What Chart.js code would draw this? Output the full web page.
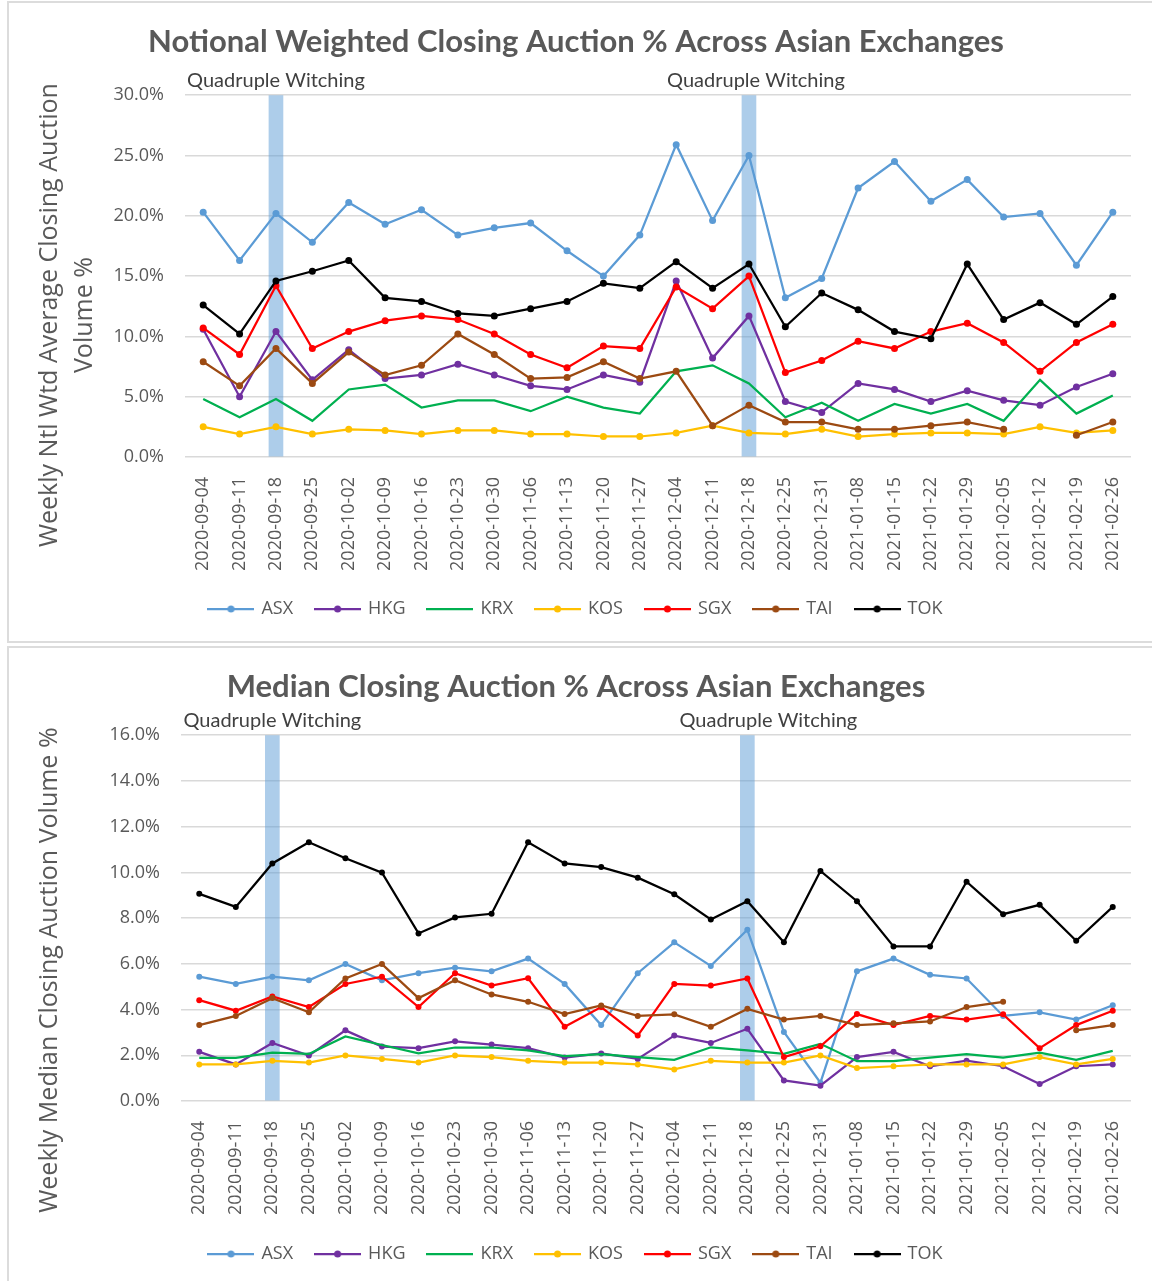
<!DOCTYPE html>
<html>
<head>
<meta charset="utf-8">
<script src="https://cdn.jsdelivr.net/npm/chart.js@4.4.1/dist/chart.umd.min.js"></script>
<style>
  body { margin: 0; background: #fff; width: 1152px; height: 1281px; overflow: hidden; position: relative; }
  .panel { position: absolute; left: 7px; width: 1160px; border: 2px solid #dcdcdc; box-sizing: border-box; }
  #panel1 { top: 1px; height: 642px; }
  #panel2 { top: 646px; height: 700px; }
  .wrap { position: absolute; left: 0; width: 1152px; }
  #wrap1 { top: 0; height: 640px; }
  #wrap2 { top: 645px; height: 636px; }
</style>
</head>
<body>
<div class="panel" id="panel1"></div>
<div class="panel" id="panel2"></div>
<div class="wrap" id="wrap1"><canvas id="chart1"></canvas></div>
<div class="wrap" id="wrap2"><canvas id="chart2"></canvas></div>
<script>
// Categories
const weeks = [
  "2020-09-04", "2020-09-11", "2020-09-18", "2020-09-25", "2020-10-02", "2020-10-09",
  "2020-10-16", "2020-10-23", "2020-10-30", "2020-11-06", "2020-11-13", "2020-11-20",
  "2020-11-27", "2020-12-04", "2020-12-11", "2020-12-18", "2020-12-25", "2020-12-31",
  "2021-01-08", "2021-01-15", "2021-01-22", "2021-01-29", "2021-02-05", "2021-02-12",
  "2021-02-19", "2021-02-26"
];
const witchingWeeks = ["2020-09-18", "2020-12-18"];
const exchanges = ["ASX", "HKG", "KRX", "KOS", "SGX", "TAI", "TOK"];

// Notional weighted closing auction % (top chart)
const asxNtl = [20.3, 16.3, 20.2, 17.8, 21.1, 19.3, 20.5, 18.4, 19.0, 19.4, 17.1, 15.0, 18.4, 25.9, 19.6, 25.0, 13.2, 14.8, 22.3, 24.5, 21.2, 23.0, 19.9, 20.2, 15.9, 20.3];
const hkgNtl = [10.6, 5.0, 10.4, 6.4, 8.9, 6.5, 6.8, 7.7, 6.8, 5.9, 5.6, 6.8, 6.2, 14.6, 8.2, 11.7, 4.6, 3.7, 6.1, 5.6, 4.6, 5.5, 4.7, 4.3, 5.8, 6.9];
const krxNtl = [4.8, 3.3, 4.8, 3.0, 5.6, 6.0, 4.1, 4.7, 4.7, 3.8, 5.0, 4.1, 3.6, 7.1, 7.6, 6.1, 3.3, 4.5, 3.0, 4.4, 3.6, 4.4, 3.0, 6.4, 3.6, 5.1];
const kosNtl = [2.5, 1.9, 2.5, 1.9, 2.3, 2.2, 1.9, 2.2, 2.2, 1.9, 1.9, 1.7, 1.7, 2.0, 2.6, 2.0, 1.9, 2.3, 1.7, 1.9, 2.0, 2.0, 1.9, 2.5, 2.0, 2.2];
const sgxNtl = [10.7, 8.5, 14.2, 9.0, 10.4, 11.3, 11.7, 11.4, 10.2, 8.5, 7.4, 9.2, 9.0, 14.1, 12.3, 15.0, 7.0, 8.0, 9.6, 9.0, 10.4, 11.1, 9.5, 7.1, 9.5, 11.0];
const taiNtl = [7.9, 5.9, 9.0, 6.1, 8.7, 6.8, 7.6, 10.2, 8.5, 6.5, 6.6, 7.9, 6.5, 7.1, 2.6, 4.3, 2.9, 2.9, 2.3, 2.3, 2.6, 2.9, 2.3, null, 1.8, 2.9];
const tokNtl = [12.6, 10.2, 14.6, 15.4, 16.3, 13.2, 12.9, 11.9, 11.7, 12.3, 12.9, 14.4, 14.0, 16.2, 14.0, 16.0, 10.8, 13.6, 12.2, 10.4, 9.8, 16.0, 11.4, 12.8, 11.0, 13.3];

// Median closing auction % (bottom chart)
const asxMed = [5.44, 5.12, 5.44, 5.28, 5.99, 5.28, 5.59, 5.83, 5.67, 6.23, 5.12, 3.32, 5.59, 6.94, 5.91, 7.49, 3.02, 0.8, 5.67, 6.23, 5.52, 5.36, 3.72, 3.88, 3.56, 4.19];
const hkgMed = [2.15, 1.6, 2.54, 1.99, 3.09, 2.38, 2.31, 2.61, 2.47, 2.31, 1.9, 2.08, 1.84, 2.86, 2.54, 3.16, 0.9, 0.67, 1.92, 2.15, 1.52, 1.76, 1.52, 0.74, 1.52, 1.6];
const krxMed = [1.89, 1.89, 2.12, 2.06, 2.82, 2.45, 2.08, 2.34, 2.34, 2.21, 1.96, 2.05, 1.92, 1.8, 2.35, 2.21, 2.06, 2.5, 1.74, 1.74, 1.9, 2.05, 1.9, 2.12, 1.8, 2.19];
const kosMed = [1.6, 1.6, 1.76, 1.68, 1.99, 1.84, 1.68, 1.99, 1.92, 1.76, 1.68, 1.68, 1.6, 1.38, 1.76, 1.68, 1.68, 1.99, 1.44, 1.52, 1.6, 1.6, 1.6, 1.92, 1.6, 1.84];
const sgxMed = [4.41, 3.95, 4.57, 4.11, 5.12, 5.44, 4.11, 5.59, 5.05, 5.37, 3.25, 4.11, 2.86, 5.12, 5.05, 5.36, 1.92, 2.39, 3.80, 3.32, 3.72, 3.56, 3.79, 2.31, 3.32, 3.95];
const taiMed = [3.32, 3.72, 4.5, 3.88, 5.36, 5.99, 4.5, 5.28, 4.66, 4.34, 3.8, 4.18, 3.72, 3.79, 3.25, 4.03, 3.56, 3.72, 3.32, 3.40, 3.48, 4.11, 4.34, null, 3.09, 3.32];
const tokMed = [9.06, 8.49, 10.39, 11.32, 10.62, 9.99, 7.33, 8.03, 8.19, 11.32, 10.39, 10.23, 9.77, 9.04, 7.94, 8.74, 6.94, 10.06, 8.74, 6.76, 6.76, 9.59, 8.17, 8.58, 7.01, 8.49];

const colors = ["#5B9BD5", "#7030A0", "#00B050", "#FFC000", "#FF0000", "#9C4A12", "#000000"];
const hasMarker = [true, true, false, true, true, true, true];
const textColor = "#595959";

Chart.defaults.font.family = "'Open Sans', sans-serif";
Chart.defaults.color = textColor;

// line + dot swatch for the legend
function legendIcon(color, marker) {
  const c = document.createElement("canvas");
  c.width = 47;
  c.height = 10;
  const g = c.getContext("2d");
  g.strokeStyle = color;
  g.lineWidth = 2.25;
  g.beginPath();
  g.moveTo(0, 5);
  g.lineTo(47, 5);
  g.stroke();
  if (marker) {
    g.fillStyle = color;
    g.beginPath();
    g.arc(23.5, 5, 3.5, 0, Math.PI * 2);
    g.fill();
  }
  return c;
}

// rotated y-axis title, shifted a bit down like the original
const sideTitle = {
  id: "sideTitle",
  afterDraw(chart, args, opts) {
    const { ctx, chartArea } = chart;
    const cy = (chartArea.top + chartArea.bottom) / 2 + opts.shift;
    ctx.save();
    ctx.font = "25px 'Open Sans'";
    ctx.fillStyle = textColor;
    ctx.textAlign = "center";
    ctx.textBaseline = "middle";
    opts.lines.forEach((line, i) => {
      ctx.save();
      ctx.translate(opts.x[i], cy);
      ctx.rotate(-Math.PI / 2);
      ctx.fillText(line, 0, 0);
      ctx.restore();
    });
    ctx.restore();
  }
};

// "Quadruple Witching" captions above the bands
const witchLabels = {
  id: "witchLabels",
  afterDraw(chart, args, opts) {
    const { ctx, chartArea } = chart;
    const xs = chart.scales.x;
    ctx.save();
    ctx.font = "20px Lato";
    ctx.fillStyle = "#404040";
    ctx.textAlign = "center";
    ctx.textBaseline = "middle";
    witchingWeeks.forEach((w, i) => {
      const x = xs.getPixelForValue(weeks.indexOf(w)) + opts.dx[i];
      ctx.fillText("Quadruple Witching", x, chartArea.top - 15);
    });
    ctx.restore();
  }
};

function makeChart(id, cfg) {
  const series = cfg.series.map((data, i) => ({
    type: "line",
    label: exchanges[i],
    data: data,
    borderColor: colors[i],
    backgroundColor: colors[i],
    borderWidth: 2.25,
    pointRadius: hasMarker[i] ? cfg.dot : 0,
    pointBorderWidth: 0,
    pointBackgroundColor: colors[i],
    tension: 0,
    order: exchanges.length - i
  }));

  const band = {
    type: "bar",
    label: "band",
    data: weeks.map(w => (witchingWeeks.includes(w) ? cfg.yMax : null)),
    backgroundColor: "rgba(91, 155, 213, 0.5)",
    barThickness: 14,
    order: 20
  };

  return new Chart(document.getElementById(id), {
    type: "line",
    data: { labels: weeks, datasets: series.concat([band]) },
    options: {
      responsive: true,
      maintainAspectRatio: false,
      animation: false,
      events: [],
      layout: { padding: { left: 21, right: 21, top: 0, bottom: cfg.padBottom } },
      scales: {
        x: {
          offset: true,
          grid: { display: false },
          border: { display: false },
          ticks: {
            autoSkip: false,
            minRotation: 90,
            maxRotation: 90,
            padding: 12,
            color: textColor,
            font: { size: 18 }
          },
          afterFit: s => { s.height = cfg.xHeight; }
        },
        y: {
          min: 0,
          max: cfg.yMax,
          grid: { color: "#d9d9d9", lineWidth: 1.5, drawTicks: false },
          border: { display: false },
          ticks: {
            stepSize: cfg.step,
            padding: 21,
            color: textColor,
            font: { size: 18 },
            callback: v => v.toFixed(1) + "%"
          },
          afterFit: s => { s.width = cfg.yWidth; }
        }
      },
      plugins: {
        title: {
          display: true,
          text: cfg.title,
          color: textColor,
          font: { family: "Lato", size: 31, weight: "bold", lineHeight: 1.2 },
          padding: { top: 23, bottom: cfg.titleGap }
        },
        legend: {
          position: "bottom",
          labels: {
            usePointStyle: true,
            pointStyleWidth: 43,
            padding: 23,
            color: textColor,
            font: { size: 18 },
            generateLabels: chart => {
              const items = Chart.defaults.plugins.legend.labels.generateLabels(chart);
              items.forEach(item => {
                const i = item.datasetIndex;
                if (i < exchanges.length) {
                  item.pointStyle = legendIcon(colors[i], hasMarker[i]);
                }
                item.lineWidth = 0;
              });
              return items;
            },
            filter: item => item.datasetIndex < exchanges.length,
            sort: (a, b) => a.datasetIndex - b.datasetIndex
          }
        },
        tooltip: { enabled: false },
        sideTitle: { lines: cfg.axisTitle, x: cfg.axisTitleX, shift: cfg.axisShift },
        witchLabels: { dx: cfg.witchDx }
      }
    },
    plugins: [sideTitle, witchLabels]
  });
}

makeChart("chart1", {
  title: "Notional Weighted Closing Auction % Across Asian Exchanges",
  series: [asxNtl, hkgNtl, krxNtl, kosNtl, sgxNtl, taiNtl, tokNtl],
  yMax: 30,
  step: 5,
  dot: 3.5,
  yWidth: 164,
  xHeight: 120,
  padBottom: 12,
  titleGap: 35,
  axisTitle: ["Weekly Ntl Wtd Average Closing Auction", "Volume %"],
  axisTitleX: [50, 85],
  axisShift: 39,
  witchDx: [0, 7]
});

makeChart("chart2", {
  title: "Median Closing Auction % Across Asian Exchanges",
  series: [asxMed, hkgMed, krxMed, kosMed, sgxMed, taiMed, tokMed],
  yMax: 16,
  step: 2,
  dot: 3,
  yWidth: 160,
  xHeight: 121,
  padBottom: 8,
  titleGap: 30,
  axisTitle: ["Weekly Median Closing Auction Volume %"],
  axisTitleX: [50],
  axisShift: 52,
  witchDx: [0, 21]
});
</script>
</body>
</html>
